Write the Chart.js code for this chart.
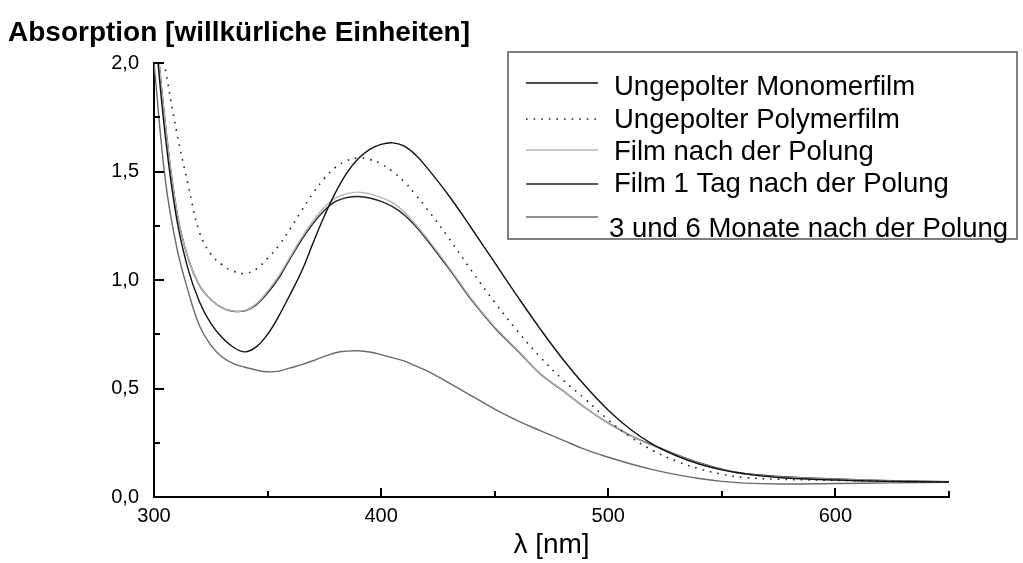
<!DOCTYPE html>
<html>
<head>
<meta charset="utf-8">
<script src="https://cdn.jsdelivr.net/npm/chart.js@4.4.1/dist/chart.umd.min.js"></script>
<style>
  html, body { margin: 0; padding: 0; background: #fff; }
  #wrap { width: 1023px; height: 563px; position: relative; }
</style>
</head>
<body>
<div id="wrap"><canvas id="spectra"></canvas></div>
<script>
// UV/Vis absorption spectra, wavelength in nm
const wavelengths = [300, 305, 310, 315, 320, 325, 330, 335, 340, 345, 350, 355, 360, 365, 370, 375, 380, 385, 390, 395, 400, 405, 410, 415, 420, 430, 440, 450, 460, 470, 480, 490, 500, 510, 520, 530, 540, 550, 560, 575, 600, 625, 650];

const monomerFilm = [2.2, 1.66, 1.28, 1.05, 0.90, 0.80, 0.735, 0.69, 0.669, 0.692, 0.75, 0.835, 0.935, 1.04, 1.17, 1.295, 1.405, 1.495, 1.56, 1.602, 1.625, 1.632, 1.618, 1.578, 1.52, 1.386, 1.235, 1.08, 0.925, 0.775, 0.635, 0.51, 0.40, 0.31, 0.24, 0.19, 0.152, 0.125, 0.107, 0.09, 0.078, 0.072, 0.069];

const polymerFilm = [null, 1.97, 1.68, 1.44, 1.22, 1.12, 1.07, 1.04, 1.03, 1.05, 1.10, 1.16, 1.237, 1.32, 1.40, 1.468, 1.52, 1.55, 1.562, 1.555, 1.535, 1.50, 1.455, 1.395, 1.33, 1.19, 1.04, 0.897, 0.765, 0.645, 0.54, 0.45, 0.355, 0.275, 0.212, 0.165, 0.13, 0.105, 0.09, 0.082, 0.077, 0.072, 0.069];

const afterPoling = [2.25, 1.72, 1.32, 1.10, 0.975, 0.91, 0.872, 0.857, 0.86, 0.89, 0.948, 1.02, 1.108, 1.195, 1.272, 1.335, 1.378, 1.398, 1.405, 1.397, 1.38, 1.357, 1.316, 1.258, 1.195, 1.056, 0.91, 0.784, 0.678, 0.57, 0.49, 0.41, 0.34, 0.28, 0.234, 0.193, 0.156, 0.126, 0.106, 0.092, 0.081, 0.074, 0.069];

const oneDayAfter = [2.25, 1.72, 1.32, 1.10, 0.975, 0.91, 0.872, 0.856, 0.858, 0.885, 0.94, 1.01, 1.10, 1.185, 1.26, 1.32, 1.362, 1.38, 1.385, 1.378, 1.362, 1.338, 1.302, 1.25, 1.188, 1.05, 0.905, 0.78, 0.675, 0.568, 0.49, 0.41, 0.34, 0.282, 0.237, 0.195, 0.158, 0.128, 0.108, 0.095, 0.083, 0.075, 0.07];

const monthsAfter = [2.0, 1.46, 1.15, 0.95, 0.79, 0.70, 0.645, 0.615, 0.598, 0.585, 0.577, 0.58, 0.595, 0.61, 0.628, 0.648, 0.665, 0.672, 0.674, 0.668, 0.656, 0.642, 0.627, 0.605, 0.582, 0.525, 0.465, 0.405, 0.352, 0.306, 0.262, 0.218, 0.183, 0.152, 0.125, 0.103, 0.085, 0.072, 0.064, 0.06, 0.062, 0.065, 0.068];

const seriesLabels = [
  'Ungepolter Monomerfilm',
  'Ungepolter Polymerfilm',
  'Film nach der Polung',
  'Film 1 Tag nach der Polung',
  '3 und 6 Monate nach der Polung'
];

const FONT = "'Liberation Sans', Arial, sans-serif";

function points(values) {
  return wavelengths.map((w, i) => ({ x: w, y: values[i] }));
}

function comma(v, digits) {
  return v.toFixed(digits).replace('.', ',');
}

function isHalfStep(v) {
  return Math.abs(v * 2 - Math.round(v * 2)) < 1e-6;
}

// axis ticks point into the plot, legend is a framed box in the top right
const decorations = {
  id: 'decorations',
  afterDraw(chart) {
    const { ctx, chartArea, scales } = chart;
    const xs = scales.x;
    const ys = scales.y;
    ctx.save();

    ctx.strokeStyle = '#000';
    ctx.lineWidth = 2;
    xs.ticks.forEach(t => {
      const x = Math.round(xs.getPixelForValue(t.value));
      const len = t.value % 100 === 0 ? 9 : 6;
      ctx.beginPath();
      ctx.moveTo(x, chartArea.bottom);
      ctx.lineTo(x, chartArea.bottom - len);
      ctx.stroke();
    });
    ys.ticks.forEach(t => {
      const y = Math.round(ys.getPixelForValue(t.value));
      ctx.beginPath();
      ctx.moveTo(chartArea.left, y);
      ctx.lineTo(chartArea.left + (isHalfStep(t.value) ? 10 : 6), y);
      ctx.stroke();
    });

    // quantity on the y axis, written above the plot
    ctx.fillStyle = '#000';
    ctx.font = 'bold 28px ' + FONT;
    ctx.textBaseline = 'alphabetic';
    ctx.textAlign = 'left';
    ctx.fillText('Absorption [willkürliche Einheiten]', 8, 41);

    // legend
    const box = { left: 508, top: 52, right: 1017, bottom: 239 };
    ctx.strokeStyle = '#555';
    ctx.lineWidth = 1.5;
    ctx.strokeRect(box.left, box.top, box.right - box.left, box.bottom - box.top);

    const sampleY = [83, 119, 150, 184, 217];
    const textY = [95, 128, 160, 192, 237];
    const textX = [614, 614, 614, 614, 609];
    ctx.font = '27.5px ' + FONT;
    chart.data.datasets.forEach((ds, i) => {
      ctx.strokeStyle = ds.borderColor;
      ctx.lineWidth = ds.borderWidth;
      ctx.setLineDash(ds.borderDash || []);
      ctx.beginPath();
      ctx.moveTo(526, sampleY[i]);
      ctx.lineTo(598, sampleY[i]);
      ctx.stroke();
      ctx.setLineDash([]);
      ctx.fillStyle = '#000';
      ctx.fillText(ds.label, textX[i], textY[i]);
    });

    ctx.restore();
  }
};

const colors = ['#111', '#222', '#b4b4b4', '#222', '#6a6a6a'];
const dashes = [[], [1.6, 6], [], [], []];
const widths = [1.4, 1.6, 1.4, 1.4, 1.4];
const seriesValues = [monomerFilm, polymerFilm, afterPoling, oneDayAfter, monthsAfter];

new Chart(document.getElementById('spectra'), {
  type: 'line',
  data: {
    datasets: seriesValues.map((vals, i) => ({
      label: seriesLabels[i],
      data: points(vals),
      borderColor: colors[i],
      borderWidth: widths[i],
      borderDash: dashes[i],
      pointRadius: 0,
      fill: false,
      tension: 0.4,
      spanGaps: false
    }))
  },
  options: {
    responsive: true,
    maintainAspectRatio: false,
    animation: false,
    layout: { padding: { top: 63, right: 74, left: 0, bottom: 0 } },
    plugins: {
      legend: { display: false },
      tooltip: { enabled: false }
    },
    scales: {
      x: {
        type: 'linear',
        min: 300,
        max: 650,
        grid: { display: false, drawTicks: false },
        border: { display: true, color: '#000', width: 2 },
        ticks: {
          stepSize: 50,
          padding: 7,
          maxRotation: 0,
          autoSkip: false,
          color: '#000',
          font: { family: FONT, size: 20 },
          callback: v => (v % 100 === 0 ? String(v) : '')
        },
        title: {
          display: true,
          text: 'λ [nm]',
          color: '#000',
          font: { family: FONT, size: 28 },
          padding: { top: 0, bottom: 1 }
        },
        afterFit: scale => { scale.height = 66; }
      },
      y: {
        min: 0,
        max: 2,
        grid: { display: false, drawTicks: false },
        border: { display: true, color: '#000', width: 2 },
        ticks: {
          stepSize: 0.25,
          padding: 15,
          autoSkip: false,
          color: '#000',
          font: { family: FONT, size: 20 },
          callback: v => (isHalfStep(v) ? comma(v, 1) : '')
        },
        afterFit: scale => { scale.width = 154; }
      }
    }
  },
  plugins: [decorations]
});
</script>
</body>
</html>
